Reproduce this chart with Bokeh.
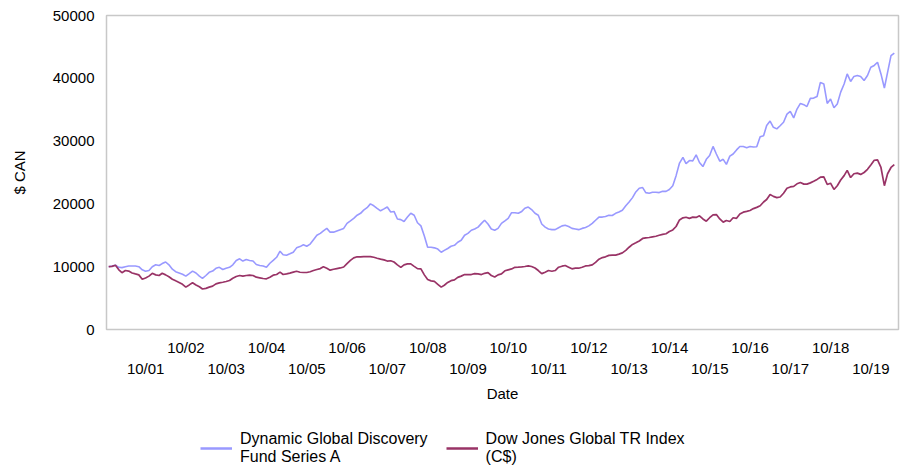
import numpy as np
import pandas as pd
from bokeh.plotting import figure
from bokeh.layouts import column
from bokeh.models import (DatetimeAxis, FixedTicker, DatetimeTickFormatter, Legend,
                          LegendItem, Range1d, ColumnDataSource)
from bokeh.embed import file_html
from bokeh.resources import INLINE

# Month-end values, starting Oct 2000
fund = [
    10000, 10100, 10240, 9900, 9850, 10000, 10100, 10100, 10100, 10000,
    9500, 9280, 9400, 10000, 10300, 10200, 10500, 10750, 10300, 9600,
    9200, 9000, 8800, 8500, 8900, 9300, 9000, 8500, 8150, 8600,
    9100, 9300, 9750, 9900, 9550, 9750, 9900, 10300, 11000, 11250,
    10900, 11150, 11000, 10900, 10350, 10200, 10100, 9900, 10550, 11000,
    11500, 12470, 11900, 11830, 12050, 12300, 13000, 13200, 13500, 13250,
    13600, 14300, 15000, 15300, 15700, 16100, 15500, 15500, 15700, 15900,
    16100, 16900, 17300, 17700, 18200, 18500, 19000, 19400, 20000, 19700,
    19300, 18900, 19200, 19500, 18700, 18800, 17600, 17500, 17200, 17900,
    18500, 18200, 17000, 16500, 14900, 13100, 13100, 13000, 12800, 12300,
    12600, 12900, 13250, 13400, 13900, 14200, 15000, 15300, 15800, 16000,
    16300, 16900, 17400, 16800, 16000, 15800, 16100, 16900, 17300, 17700,
    18600, 18600, 18500, 18800, 19300, 19500, 19100, 18500, 18200, 16800,
    16300, 16000, 15900, 15900, 16200, 16500, 16600, 16400, 16100, 16000,
    15900, 16100, 16250, 16500, 16900, 17400, 17900, 17900, 18000, 18200,
    18150, 18500, 18700, 19000, 19700, 20300, 21000, 21900, 22500, 22600,
    21800, 21700, 21850, 21850, 21800, 22000, 22000, 22300, 22900, 24500,
    26500, 27400, 26400, 26900, 26850, 27800, 26600, 25950, 27100, 27700,
    29150, 27950, 26800, 27100, 26300, 27600, 27950, 28600, 29150, 29150,
    28950, 29130, 29050, 29100, 30700, 30850, 32500, 33200, 32200, 31950,
    32450, 33000, 34300, 34750, 33700, 35100, 36000, 35800, 35500, 36800,
    36850, 37100, 39350, 39100, 36000, 36700, 35300, 35900, 37800, 39100,
    40700, 39500, 40300, 40450, 40300, 39650, 40450, 41750, 42050, 42550,
    40700, 38450, 40950, 43600, 44000,
]

index = [
    10000, 10050, 10240, 9500, 9050, 9400, 9300, 9000, 8850, 8700,
    8000, 8200, 8500, 8950, 8700, 8600, 8950, 8700, 8400, 8000,
    7750, 7500, 7200, 6750, 7100, 7450, 7100, 6800, 6450, 6550,
    6740, 6900, 7270, 7430, 7530, 7640, 7800, 8170, 8440, 8600,
    8490, 8600, 8650, 8600, 8330, 8230, 8120, 8070, 8330, 8650,
    8760, 9130, 8760, 8860, 8970, 9130, 9280, 9120, 9080, 9080,
    9200, 9400, 9550, 9700, 10000, 9750, 9450, 9600, 9700, 9800,
    9950, 10500, 11000, 11400, 11580, 11550, 11600, 11620, 11600, 11500,
    11350, 11200, 11080, 10900, 10950, 10750, 10300, 9900, 10300, 10450,
    10450, 10050, 9700, 9650, 8700, 7950, 7750, 7650, 7200, 6750,
    7050, 7500, 7780, 7900, 8300, 8500, 8750, 8750, 8750, 8900,
    8850, 8750, 8950, 9050, 8600, 8350, 8700, 8850, 9350, 9500,
    9650, 9900, 9920, 9970, 10030, 10130, 10030, 9800, 9390, 8900,
    9130, 9390, 9280, 9390, 9920, 10080, 10190, 9920, 9660, 9760,
    9760, 9920, 10120, 10160, 10300, 10700, 11200, 11450, 11570, 11800,
    11850, 11850, 12000, 12200, 12600, 13100, 13550, 13800, 14100, 14500,
    14600, 14650, 14750, 14850, 15000, 15150, 15250, 15600, 15850, 16400,
    17450, 17780, 17880, 17700, 17900, 17850, 18100, 17600, 17250, 17800,
    18250, 18300, 17600, 17100, 17350, 17200, 17800, 17700, 18400, 18680,
    18800, 18950, 19250, 19450, 19700, 20300, 20700, 21500, 21200, 21000,
    21100, 21700, 22500, 22700, 22800, 23200, 23400, 23150, 23150, 23350,
    23600, 23900, 24250, 24300, 23100, 23300, 22300, 22900, 23800, 24500,
    25350, 24200, 24800, 24900, 24700, 25000, 25500, 26200, 26950, 27000,
    25800, 22900, 24800, 25800, 26250,
]

series_names = ["Dynamic Global Discovery\nFund Series A", "Dow Jones Global TR Index\n(C$)"]
series_colors = ["#9999FF", "#993366"]
first_month_end = "2000-10-31"
even_ticks = ["2002-10-01", "2004-10-01", "2006-10-01", "2008-10-01", "2010-10-01",
              "2012-10-01", "2014-10-01", "2016-10-01", "2018-10-01"]
odd_ticks = ["2001-10-01", "2003-10-01", "2005-10-01", "2007-10-01", "2009-10-01",
             "2011-10-01", "2013-10-01", "2015-10-01", "2017-10-01", "2019-10-01"]
y_ticks = [0, 10000, 20000, 30000, 40000, 50000]

dates = pd.date_range(first_month_end, periods=len(fund), freq="ME")
src = ColumnDataSource(dict(date=dates, fund=fund, index=index))

FONT = "Liberation Sans"
TXT = "#000000"
FS = "15px"

def ms(s):
    return pd.Timestamp(s).value / 1e6

p = figure(width=900, height=405, x_axis_type="datetime",
           output_backend="svg", toolbar_location=None,
           x_range=Range1d(ms("2000-10-11"), ms("2020-06-07")),
           y_range=Range1d(0, 50000),
           min_border_left=106, min_border_right=2, min_border_top=15,
           min_border_bottom=76)
p.background_fill_color = "white"
p.border_fill_color = "white"
p.outline_line_color = "#c8c8c8"
p.outline_line_width = 1.5
p.xgrid.visible = False
p.ygrid.visible = False

r1 = p.line("date", "fund", source=src, line_color=series_colors[0], line_width=1.6)
r2 = p.line("date", "index", source=src, line_color=series_colors[1], line_width=1.7)

fmt = DatetimeTickFormatter(
    milliseconds="%m/%y", seconds="%m/%y", minsec="%m/%y", minutes="%m/%y",
    hourmin="%m/%y", hours="%m/%y", days="%m/%y", months="%m/%y", years="%m/%y")

def style_axis(ax):
    ax.axis_line_color = None
    ax.major_tick_line_color = None
    ax.minor_tick_line_color = None
    ax.major_tick_out = 0
    ax.major_tick_in = 0
    ax.minor_tick_out = 0
    ax.minor_tick_in = 0
    ax.major_label_text_font = FONT
    ax.major_label_text_font_size = FS
    ax.major_label_text_color = TXT
    ax.axis_label_text_font = FONT
    ax.axis_label_text_font_size = FS
    ax.axis_label_text_font_style = "normal"
    ax.axis_label_text_color = TXT

xa = p.xaxis[0]
xa.ticker = FixedTicker(ticks=[ms(t) for t in even_ticks])
xa.formatter = fmt
style_axis(xa)
xa.major_label_standoff = 9

xb = DatetimeAxis(ticker=FixedTicker(ticks=[ms(t) for t in odd_ticks]), formatter=fmt,
                  axis_label="Date")
style_axis(xb)
xb.major_label_standoff = 1
xb.axis_label_standoff = 5
p.add_layout(xb, "below")

ya = p.yaxis[0]
ya.ticker = FixedTicker(ticks=y_ticks)
style_axis(ya)
ya.major_label_standoff = 12
ya.axis_label = "$ CAN"
ya.axis_label_standoff = 22

# legend strip below the chart (swatch renderers hold no visible data)
lg = figure(width=900, height=61, output_backend="svg", toolbar_location=None,
            x_axis_location=None, y_axis_location=None,
            min_border_left=0, min_border_right=0, min_border_top=0, min_border_bottom=0,
            x_range=Range1d(0, 1), y_range=Range1d(0, 1))
lg.outline_line_color = None
lg.xgrid.visible = False
lg.ygrid.visible = False
empty = ColumnDataSource(dict(x=np.array([np.nan]), y=np.array([np.nan])))
k1 = lg.line("x", "y", source=empty, line_color=series_colors[0], line_width=2.5)
k2 = lg.line("x", "y", source=empty, line_color=series_colors[1], line_width=2.5)

legend = Legend(items=[LegendItem(label=series_names[0], renderers=[k1]),
                       LegendItem(label=series_names[1], renderers=[k2])],
                location=(94, 0), orientation="horizontal")
legend.label_text_font = FONT
legend.label_text_font_size = "16px"
legend.label_text_color = TXT
legend.glyph_width = 32
legend.glyph_height = 36
legend.label_standoff = 8
legend.spacing = 18
legend.padding = 0
legend.margin = 0
legend.border_line_color = None
legend.background_fill_alpha = 0
lg.add_layout(legend, "center")

layout = column(p, lg, spacing=0)
open("out.html", "w").write(file_html(layout, INLINE))
